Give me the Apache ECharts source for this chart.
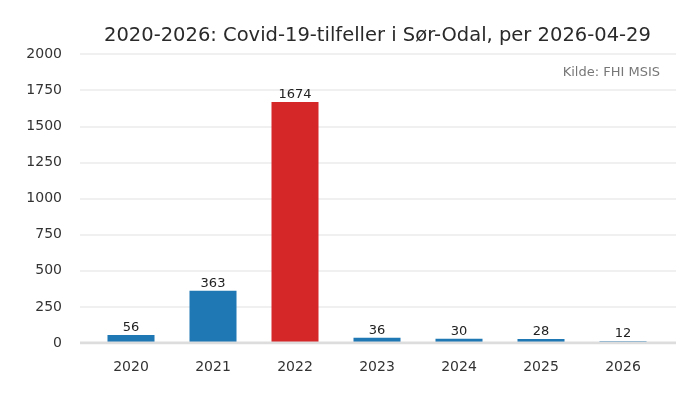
<!DOCTYPE html>
<html><head><meta charset="utf-8">
<script src="https://cdn.jsdelivr.net/npm/echarts@6/dist/echarts.min.js"></script>
<style>html,body{margin:0;padding:0;background:#fff}#c{width:700px;height:400px}</style>
</head><body><div id="c"></div>
<script>
const categories = ['2020','2021','2022','2023','2024','2025','2026'];
const cases = [56, 363, 1674, 36, 30, 28, 12];
const highlightYear = '2022';
const yTicks = [0, 250, 500, 750, 1000, 1250, 1500, 1750, 2000];

const chart = echarts.init(document.getElementById('c'));
const font = 'DejaVu Sans';
chart.setOption({
  animation: false,
  title: {
    text: '2020-2026: Covid-19-tilfeller i Sør-Odal, per 2026-04-29',
    left: 99, top: 21,
    textStyle: {fontFamily: font, fontSize: 19.5, fontWeight: 'normal', color: '#2a2a2a'}
  },
  graphic: [{
    type: 'text', right: 40, top: 66,
    style: {text: 'Kilde: FHI MSIS', fontFamily: font, fontSize: 13, fill: '#777'}
  }],
  grid: [
    {left: 80, right: 24, top: 54, bottom: 57},
    {left: 90, right: 36, top: 55, bottom: 57}
  ],
  xAxis: [
    {gridIndex: 0, type: 'value', min: 0, max: 1, show: false},
    {gridIndex: 1, type: 'category', data: categories,
     axisLine: {show: false}, axisTick: {show: false},
     axisLabel: {fontFamily: font, fontSize: 14, color: '#333', margin: 17}}
  ],
  yAxis: [
    {gridIndex: 0, type: 'value', min: yTicks[0], max: yTicks[yTicks.length - 1], interval: 250,
     axisLine: {show: false}, axisTick: {show: false},
     axisLabel: {fontFamily: font, fontSize: 14, color: '#333', margin: 18, formatter: v => String(v)},
     splitLine: {lineStyle: {color: '#ebebeb', width: 1.5}}},
    {gridIndex: 1, type: 'value', min: yTicks[0], max: yTicks[yTicks.length - 1], interval: 250, show: false}
  ],
  series: [
    {type: 'line', xAxisIndex: 0, yAxisIndex: 0, data: [[0,0],[1,0]],
     symbol: 'none', lineStyle: {color: '#dddddd', width: 3}, z: 5, silent: true},
    {type: 'bar', xAxisIndex: 1, yAxisIndex: 1, barWidth: 47, z: 3,
     data: cases.map((v, i) => ({value: v, itemStyle: {color: categories[i] === highlightYear ? '#d62728' : '#1f77b4'}})),
     label: {show: true, position: 'top', distance: 1, fontFamily: font, fontSize: 13, color: '#222'}}
  ]
});
</script></body></html>
